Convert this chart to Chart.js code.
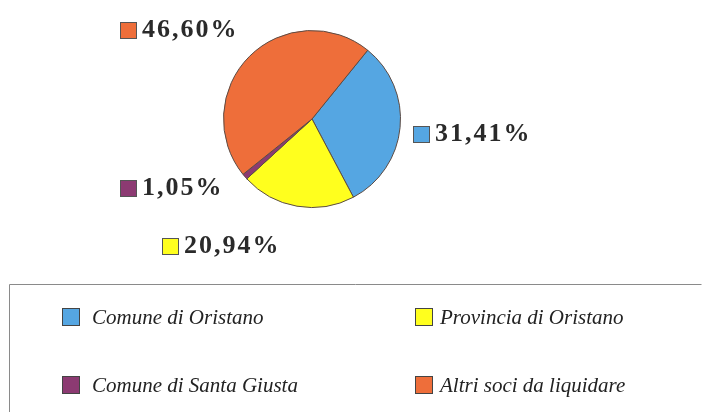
<!DOCTYPE html>
<html>
<head>
<meta charset="utf-8">
<script src="https://cdn.jsdelivr.net/npm/chart.js@4.4.1/dist/chart.umd.min.js"></script>
<style>
    html, body { margin: 0; padding: 0; background: #fff; }
    #wrap { position: relative; width: 702px; height: 412px; }
</style>
</head>
<body>
<div id="wrap"><canvas id="pie"></canvas></div>
<script>
// quote of each partner (percent)
const soci = ["Comune di Oristano", "Provincia di Oristano", "Comune di Santa Giusta", "Altri soci da liquidare"];
const quote = [31.41, 20.94, 1.05, 46.60];
const colori = ["#55a6e2", "#ffff1e", "#8c3a72", "#ee6e3a"];

// where each percent label sits (x, y of the little square)
const labelPos = [
    { x: 413, y: 126 },
    { x: 162, y: 238 },
    { x: 120, y: 180 },
    { x: 120, y: 22 },
];
// legend grid: two columns, two rows
const legendSlots = [
    { x: 62, y: 308 },
    { x: 415, y: 308 },
    { x: 62, y: 376 },
    { x: 415, y: 376 },
];

function fmtPct(v) {
    return v.toFixed(2).replace(".", ",") + "%";
}

const labelsPlugin = {
    id: "pctLabels",
    afterDraw(chart) {
        const ctx = chart.ctx;
        const data = chart.data.datasets[0].data;
        const bg = chart.data.datasets[0].backgroundColor;
        ctx.save();
        ctx.font = "bold 26px 'Liberation Serif', serif";
        ctx.textBaseline = "middle";
        ctx.letterSpacing = "2px";
        data.forEach((v, i) => {
            const p = labelPos[i];
            ctx.fillStyle = bg[i];
            ctx.fillRect(p.x, p.y, 17, 17);
            ctx.strokeStyle = "#555";
            ctx.lineWidth = 1;
            ctx.strokeRect(p.x + 0.5, p.y + 0.5, 16, 16);
            ctx.fillStyle = "#2a2a2a";
            ctx.fillText(fmtPct(v), p.x + 22, p.y + 8);
        });
        ctx.restore();
    },
};

const legendPlugin = {
    id: "boxLegend",
    afterDraw(chart) {
        const ctx = chart.ctx;
        const bg = chart.data.datasets[0].backgroundColor;
        ctx.save();
        // frame (bottom edge falls off the picture)
        ctx.strokeStyle = "#8a8a8a";
        ctx.lineWidth = 1;
        ctx.beginPath();
        ctx.moveTo(9.5, 420);
        ctx.lineTo(9.5, 284.5);
        ctx.lineTo(701.5, 284.5);
        ctx.stroke();

        ctx.font = "italic 21px 'Liberation Serif', serif";
        ctx.textBaseline = "middle";
        chart.data.labels.forEach((lab, i) => {
            const s = legendSlots[i];
            ctx.fillStyle = bg[i];
            ctx.fillRect(s.x, s.y, 18, 18);
            ctx.strokeStyle = "#444";
            ctx.strokeRect(s.x + 0.5, s.y + 0.5, 17, 17);
            ctx.fillStyle = "#222";
            ctx.fillText(lab, s.x + (i % 2 ? 25 : 30), s.y + 10);
        });
        ctx.restore();
    },
};

new Chart(document.getElementById("pie"), {
    type: "pie",
    data: {
        labels: soci,
        datasets: [{
            data: quote,
            backgroundColor: colori,
            borderColor: "#5b4b44",
            borderWidth: 1,
        }],
    },
    options: {
        responsive: true,
        maintainAspectRatio: false,
        animation: false,
        rotation: 39,
        layout: { padding: { left: 222, right: 300, top: 30, bottom: 204 } },
        plugins: { legend: { display: false }, tooltip: { enabled: false } },
    },
    plugins: [labelsPlugin, legendPlugin],
});
</script>
</body>
</html>
